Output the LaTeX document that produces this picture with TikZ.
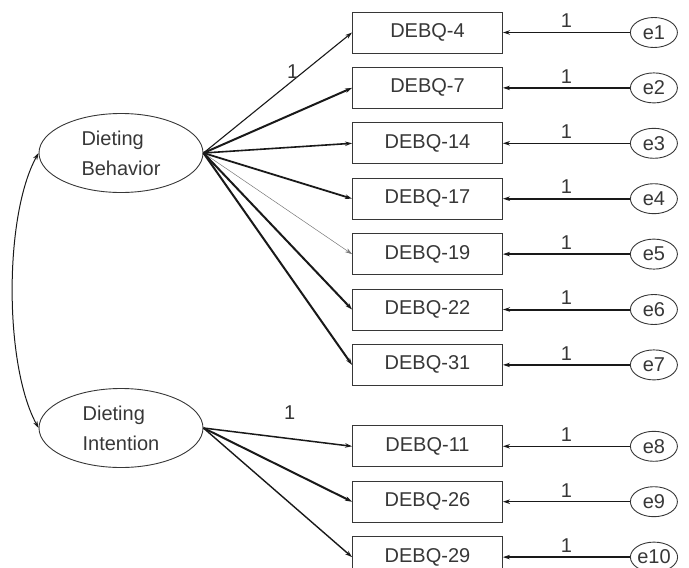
\documentclass[tikz,border=0pt]{standalone}
\usepackage{fontspec}
\setmainfont{Liberation Sans}
\usepackage{tikz}
\usetikzlibrary{shapes.geometric, arrows.meta, positioning}
\definecolor{semgray}{RGB}{55, 55, 55}
\definecolor{linkgray}{RGB}{25, 25, 25}
\definecolor{faintgray}{RGB}{120, 120, 120}

\begin{document}
\begin{tikzpicture}[
    x=1pt, y=-1pt,
    node distance=13.5pt,
    item/.style={rectangle, draw=semgray, line width=0.9pt, minimum width=150pt, minimum height=41pt, text=semgray, font=\fontsize{20}{23}\selectfont},
    latent/.style={ellipse, draw=semgray, line width=0.9pt, minimum width=164pt, minimum height=79pt, inner sep=0pt, align=left, text=semgray, font=\fontsize{20}{30}\selectfont},
    err/.style={ellipse, draw=semgray, line width=0.9pt, minimum width=47pt, minimum height=30pt, inner sep=0pt, text=semgray, font=\fontsize{20}{23}\selectfont},
    load/.style={-{Stealth[length=7pt, width=4.5pt]}, linkgray},
    cov/.style={{Stealth[length=7pt, width=4.5pt]}-{Stealth[length=7pt, width=4.5pt]}, linkgray, line width=1pt},
    lbl/.style={inner sep=2pt, text=semgray, font=\fontsize{20}{23}\selectfont}
]
\useasboundingbox (0,0) rectangle (689,568);

% Latent factors
\node[latent] (behav) at (121,153) {Dieting\\Behavior};
\node[latent] (inten) at (121,428) {Dieting\\Intention};

% Observed items
\node[item] (d4) at (427.5,32.5) {DEBQ-4};
\node[item, below=of d4] (d7) {DEBQ-7};
\node[item, below=of d7] (d14) {DEBQ-14};
\node[item, below=of d14] (d17) {DEBQ-17};
\node[item, below=of d17] (d19) {DEBQ-19};
\node[item, below=of d19] (d22) {DEBQ-22};
\node[item, below=of d22] (d31) {DEBQ-31};
\node[item, below=39.5pt of d31] (d11) {DEBQ-11};
\node[item, below=of d11] (d26) {DEBQ-26};
\node[item, below=of d26] (d29) {DEBQ-29};

% Error terms
\node[err, right=127pt of d4] (e1) {e1};
\node[err, right=127pt of d7] (e2) {e2};
\node[err, right=127pt of d14] (e3) {e3};
\node[err, right=127pt of d17] (e4) {e4};
\node[err, right=127pt of d19] (e5) {e5};
\node[err, right=127pt of d22] (e6) {e6};
\node[err, right=127pt of d31] (e7) {e7};
\node[err, right=127pt of d11] (e8) {e8};
\node[err, right=127pt of d26] (e9) {e9};
\node[err, right=127pt of d29] (e10) {e10};

% Loadings
\draw[load, line width=1.1pt] (behav.east) -- node[lbl, pos=0.6, above] {1} (d4.west);
\draw[load, line width=2pt] (behav.east) -- (d7.west);
\draw[load, line width=1.6pt] (behav.east) -- (d14.west);
\draw[load, line width=1.8pt] (behav.east) -- (d17.west);
\draw[load, line width=0.5pt, faintgray] (behav.east) -- (d19.west);
\draw[load, line width=2pt] (behav.east) -- (d22.west);
\draw[load, line width=2pt] (behav.east) -- (d31.west);
\draw[load, line width=1.5pt] (inten.east) -- node[lbl, pos=0.58, above=16pt] {1} (d11.west);
\draw[load, line width=2pt] (inten.east) -- (d26.west);
\draw[load, line width=1.4pt] (inten.east) -- (d29.west);

% Residual paths
\draw[load, line width=1.2pt] (e1.west) -- node[lbl, above=2pt] {1} (d4.east);
\draw[load, line width=1.2pt] (e2.west) -- node[lbl, above=2pt] {1} (d7.east);
\draw[load, line width=1.4pt] (e3.west) -- node[lbl, above=2pt] {1} (d14.east);
\draw[load, line width=1.8pt] (e4.west) -- node[lbl, above=2pt] {1} (d17.east);
\draw[load, line width=1.8pt] (e5.west) -- node[lbl, above=2pt] {1} (d19.east);
\draw[load, line width=2pt] (e6.west) -- node[lbl, above=2pt] {1} (d22.east);
\draw[load, line width=1.2pt] (e7.west) -- node[lbl, above=2pt] {1} (d31.east);
\draw[load, line width=1.2pt] (e8.west) -- node[lbl, above=2pt] {1} (d11.east);
\draw[load, line width=1.2pt] (e9.west) -- node[lbl, above=2pt] {1} (d26.east);
\draw[load, line width=2.2pt] (e10.west) -- node[lbl, above=2pt] {1} (d29.east);

% Factor covariance
\draw[cov] (behav.west) .. controls (4,215) and (4,365) .. (inten.west);

\end{tikzpicture}
\end{document}
